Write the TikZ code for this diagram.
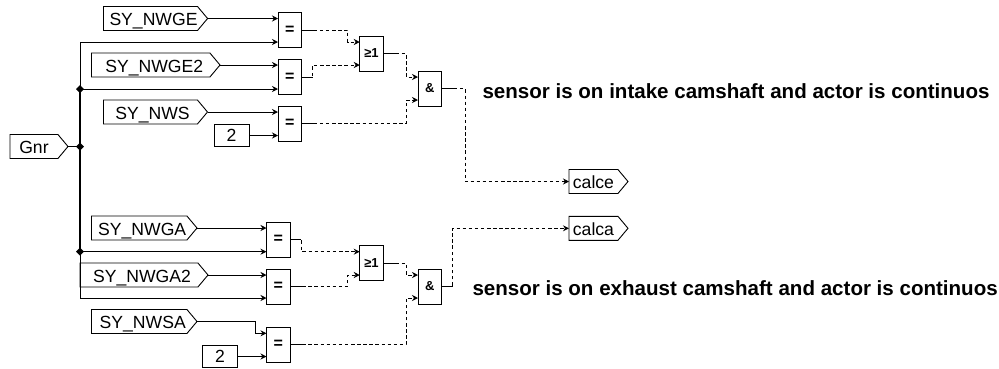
\documentclass[tikz,border=0pt]{standalone}
\usepackage{fontspec}
\setmainfont{Liberation Sans}
\usetikzlibrary{shapes.symbols, shapes.geometric, arrows.meta}

\begin{document}
\begin{tikzpicture}[
    x=1pt, y=-1pt,
    >={Stealth[length=6pt,width=6pt]},
    line width=0.9pt,
    every node/.style={font=\fontsize{17.6}{20}\selectfont, inner sep=0pt, outer sep=0pt},
    flag/.style={draw, fill=white, signal, signal to=east, signal pointer angle=100,
                 minimum height=24pt, anchor=west, text height=14.6pt, text depth=0pt},
    blk/.style={draw, fill=white, minimum width=23.5pt, minimum height=35pt,
                font=\fontsize{13}{15}\selectfont\bfseries},
    eqblk/.style={blk, font=\fontsize{16}{18}\selectfont\bfseries},
    const/.style={draw, fill=white, minimum width=35pt, minimum height=21.5pt},
    dot/.style={diamond, fill=black, minimum size=8pt},
    dsh/.style={dash pattern=on 3.5pt off 2.6pt},
    note/.style={font=\fontsize{20.55}{24}\selectfont\bfseries, anchor=west},
  ]
    \useasboundingbox (0,0) rectangle (999,368);

    % inputs, left column
    \node[flag, minimum width=58pt]    (Gnr)   at (10, 146.5)  {Gnr\hspace{4pt}};
    \node[flag, minimum width=104pt]   (nwge)  at (103.5, 18.5) {\hspace{6pt}SY\_NWGE};
    \node[flag, minimum width=128.5pt] (nwge2) at (91.5, 65)   {\hspace{7pt}SY\_NWGE2};
    \node[flag, minimum width=104pt]   (nws)   at (103.5, 112) {\hspace{4pt}SY\_NWS};
    \node[const] (twoe) at (231.5, 135.5) {2};
    \node[flag, minimum width=105.5pt] (nwga)  at (91.5, 228)  {\hspace{6pt}SY\_NWGA};
    \node[flag, minimum width=128pt]   (nwga2) at (80, 275)    {\hspace{6pt}SY\_NWGA2};
    \node[flag, minimum width=105.5pt] (nwsa)  at (91.5, 321.5) {\hspace{7pt}SY\_NWSA};
    \node[const] (twoa) at (220, 356.5) {2};

    % bus junctions
    \node[dot] (jup)  at (80, 89)    {};
    \node[dot] (jgnr) at (80, 146.5) {};
    \node[dot] (jlow) at (80, 251.7) {};
    \coordinate (bustop) at (80, 42);
    \coordinate (busbot) at (80, 298);

    % compare blocks
    \node[eqblk] (eqa) at (289.75, 30)    {=};
    \node[eqblk] (eqb) at (289.75, 77)    {=};
    \node[eqblk] (eqc) at (289.75, 123.5) {=};
    \node[eqblk] (eqd) at (278.25, 239.7) {=};
    \node[eqblk] (eqe) at (278.25, 286.5) {=};
    \node[eqblk] (eqf) at (278.25, 344.7) {=};

    % logic blocks
    \node[blk] (orup)   at (371.5, 53.5)   {≥1};
    \node[blk] (orlow)  at (371.5, 263.3)  {≥1};
    \node[blk] (andup)  at (429.75, 88.5)  {\&};
    \node[blk] (andlow) at (429.75, 286.5) {\&};

    % outputs
    \node[flag, minimum width=59pt] (calce) at (569, 181.5) {calce\hspace{5pt}};
    \node[flag, minimum width=59pt] (calca) at (569, 228.3) {calca\hspace{5pt}};

    % texts
    \node[note] (noteup)  at (482.5, 91)  {sensor is on intake camshaft and actor is continuos};
    \node[note] (notelow) at (472.5, 288) {sensor is on exhaust camshaft and actor is continuos};

    % bus
    \draw[line width=2.4pt] (jup.center) -- (jlow.center);
    \draw (Gnr.east) -- (jgnr.center);
    \draw[->] (jup.center) -- (bustop) -- (bustop -| eqa.west);
    \draw[->] (jup.center) -- (jup -| eqb.west);
    \draw[->] (jlow.center) -- (jlow -| eqd.west);
    \draw[->] (jlow.center) -- (busbot) -- (busbot -| eqe.west);

    % top half, solid inputs
    \draw[->] (nwge.east)  -- (nwge -| eqa.west);
    \draw[->] (nwge2.east) -- (nwge2 -| eqb.west);
    \draw[->] (nws.east)   -- (nws -| eqc.west);
    \draw[->] (twoe.east)  -- (twoe -| eqc.west);

    % bottom half, solid inputs
    \draw[->] (nwga.east)  -- (nwga -| eqd.west);
    \draw[->] (nwga2.east) -- (nwga2 -| eqe.west);
    \draw[->] (nwsa.east) -| (255, 333.3) -- (255, 333.3 -| eqf.west);
    \draw[->] (twoa.east)  -- (twoa -| eqf.west);

    % dashed signals, top half
    \draw[dsh, ->] (eqa.east) -- (347.7, 30) -- (347.7, 42) -- (orup.west |- 0, 42);
    \draw[dsh, ->] (eqb.east) -- (312.7, 77) -- (312.7, 65) -- (orup.west |- 0, 65);
    \draw[dsh, ->] (orup.east) -- (406, 53.5) -- (406, 77) -- (andup.west |- 0, 77);
    \draw[dsh, ->] (eqc.east) -- (406, 123.5) -- (406, 100) -- (andup.west |- 0, 100);
    \draw[dsh, ->] (andup.east) -- (465, 88.5) |- (calce.west);

    % dashed signals, bottom half
    \draw[dsh, ->] (eqd.east) -- (301.5, 239.7) -- (301.5, 251.7) -- (orlow.west |- 0, 251.7);
    \draw[dsh, ->] (eqe.east) -- (347.7, 286.5) -- (347.7, 275) -- (orlow.west |- 0, 275);
    \draw[dsh, ->] (orlow.east) -- (406, 263.3) -- (406, 275) -- (andlow.west |- 0, 275);
    \draw[dsh, ->] (eqf.east) -- (406, 344.7) -- (406, 298) -- (andlow.west |- 0, 298);
    \draw[dsh, ->] (andlow.east) -- (452.7, 286.5) |- (calca.west);

    % solid stubs on the block outputs
    \foreach \blk/\len in {eqa/14, eqb/11, eqc/14, eqd/11, eqe/14, eqf/14,
                           orup/14, orlow/14, andup/14, andlow/11}
      \draw (\blk.east) -- ++(\len, 0);
\end{tikzpicture}
\end{document}
